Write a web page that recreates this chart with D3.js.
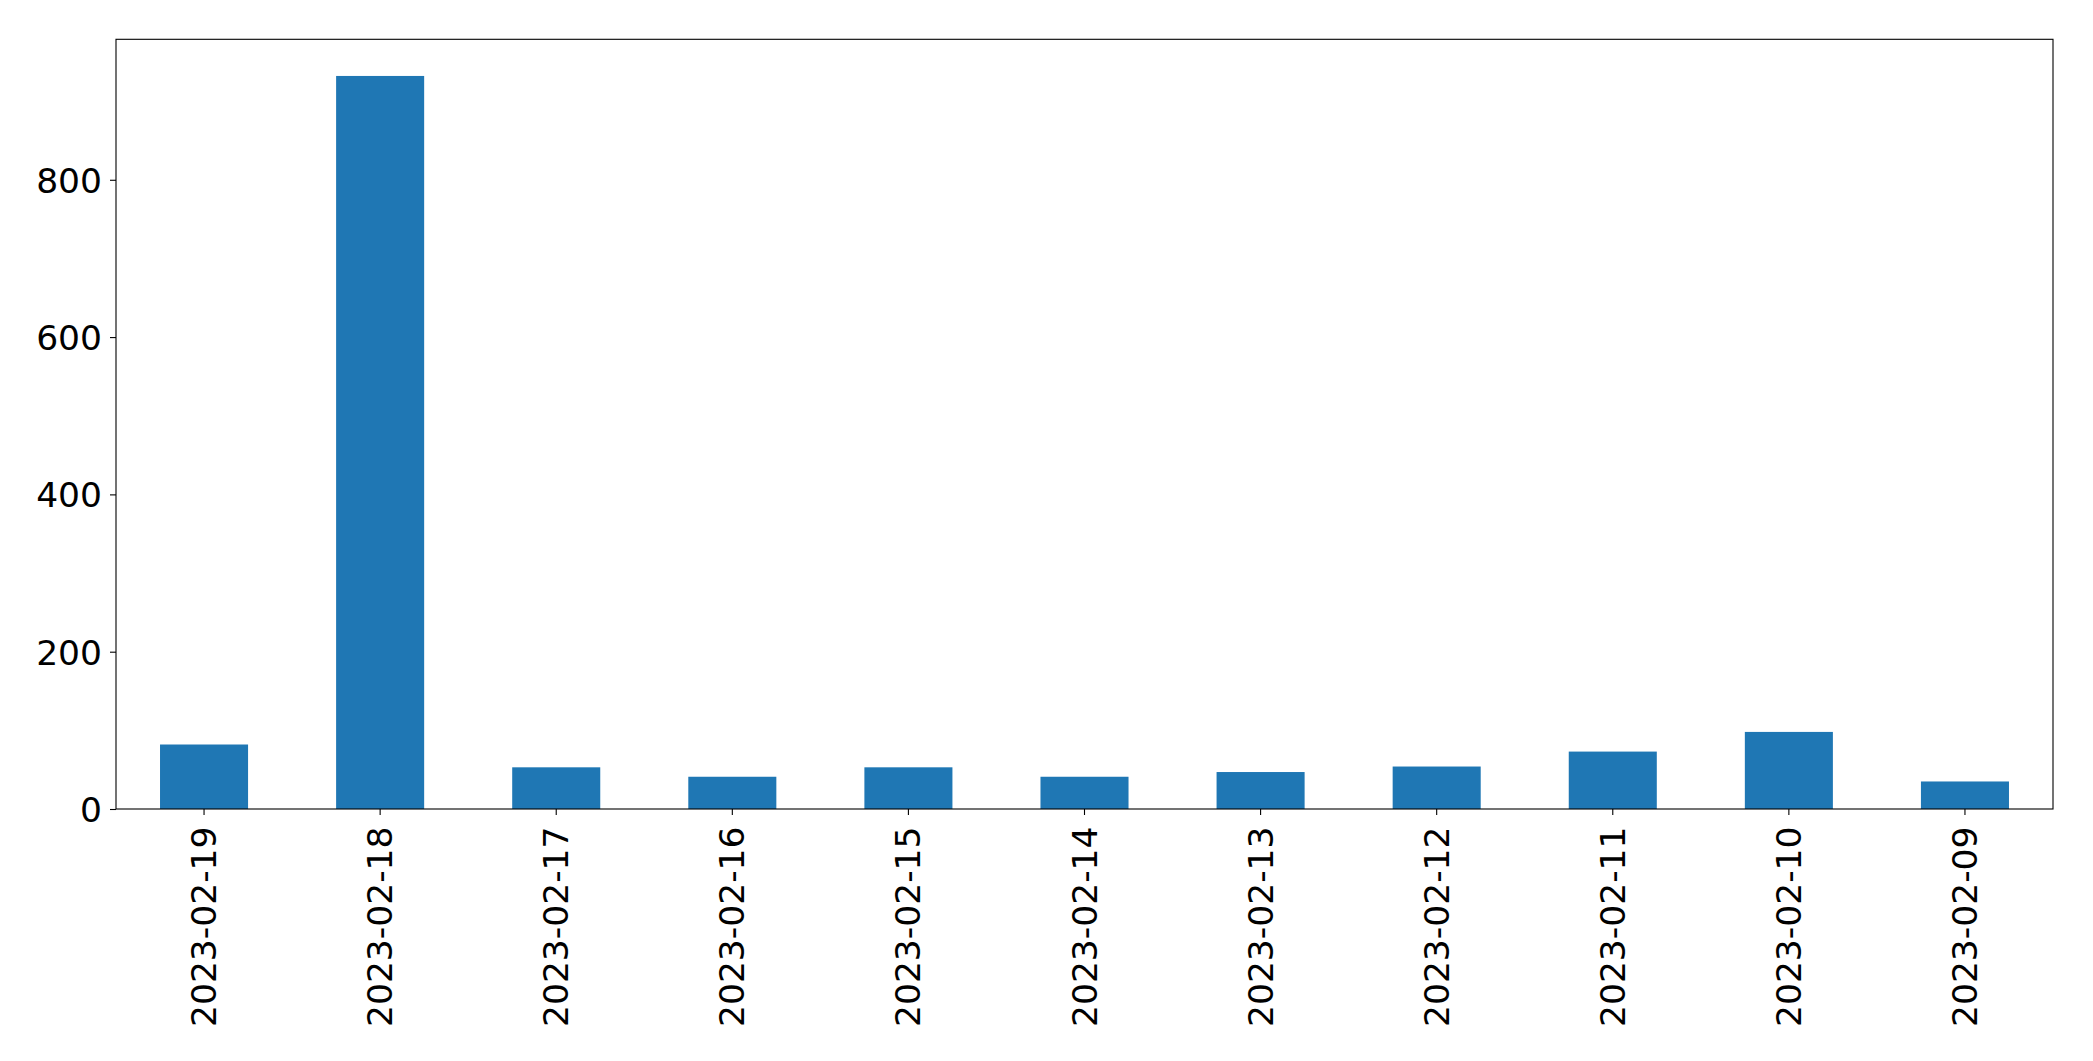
<!DOCTYPE html>
<html>
<head>
<meta charset="utf-8">
<script src="https://cdn.jsdelivr.net/npm/d3@7"></script>
<style>
  html, body { margin: 0; padding: 0; background: #fff; }
  svg { display: block; }
  text { font-family: "DejaVu Sans", sans-serif; }
</style>
</head>
<body>
<svg id="chart" width="2093" height="1061"></svg>
<script>
const categories = ["2023-02-19","2023-02-18","2023-02-17","2023-02-16","2023-02-15","2023-02-14","2023-02-13","2023-02-12","2023-02-11","2023-02-10","2023-02-09"];
const values = [82, 932, 53, 41, 53, 41, 47, 54, 73, 98, 35];
const yTicks = [0, 200, 400, 600, 800];

const W = 2093, H = 1061;
const margin = { left: 116, right: 40, top: 39.3, bottom: 252 };
const x0 = margin.left, x1 = W - margin.right;
const y0 = margin.top, y1 = H - margin.bottom;

const svg = d3.select("#chart");

const x = d3.scaleBand().domain(categories).range([x0, x1]).paddingInner(0.5).paddingOuter(0.25);
const yMax = d3.max(values) * 1.05;
const y = d3.scaleLinear().domain([0, yMax]).range([y1, y0]);

svg.append("g").selectAll("rect").data(values).join("rect")
  .attr("x", (d, i) => x(categories[i]))
  .attr("y", d => y(d))
  .attr("width", x.bandwidth())
  .attr("height", d => y(0) - y(d))
  .attr("fill", "#1f77b4");

// frame
svg.append("rect")
  .attr("x", x0).attr("y", y0)
  .attr("width", x1 - x0).attr("height", y1 - y0)
  .attr("fill", "none").attr("stroke", "#000").attr("stroke-width", 1.1);

const fs = 34.5;

const yAxis = svg.append("g").attr("transform", `translate(${x0},0)`)
  .call(d3.axisLeft(y).tickValues(yTicks).tickSize(6).tickPadding(8).tickFormat(d3.format("d")));
yAxis.select(".domain").remove();
yAxis.selectAll("line").attr("stroke", "#000").attr("stroke-width", 1.1);
yAxis.selectAll("text").attr("font-size", fs).attr("fill", "#000")
  .attr("font-family", "DejaVu Sans, sans-serif").attr("dy", "0.36em");

const xAxis = svg.append("g").attr("transform", `translate(0,${y1})`)
  .call(d3.axisBottom(x).tickSize(6).tickPadding(0));
xAxis.select(".domain").remove();
xAxis.selectAll("line").attr("stroke", "#000").attr("stroke-width", 1.1);
xAxis.selectAll("text")
  .attr("font-size", fs).attr("fill", "#000")
  .attr("font-family", "DejaVu Sans, sans-serif")
  .attr("text-anchor", "end")
  .attr("dy", null)
  .attr("y", 0)
  .attr("transform", "translate(0,17.5) rotate(-90)")
  .attr("dominant-baseline", "central");
</script>
</body>
</html>
